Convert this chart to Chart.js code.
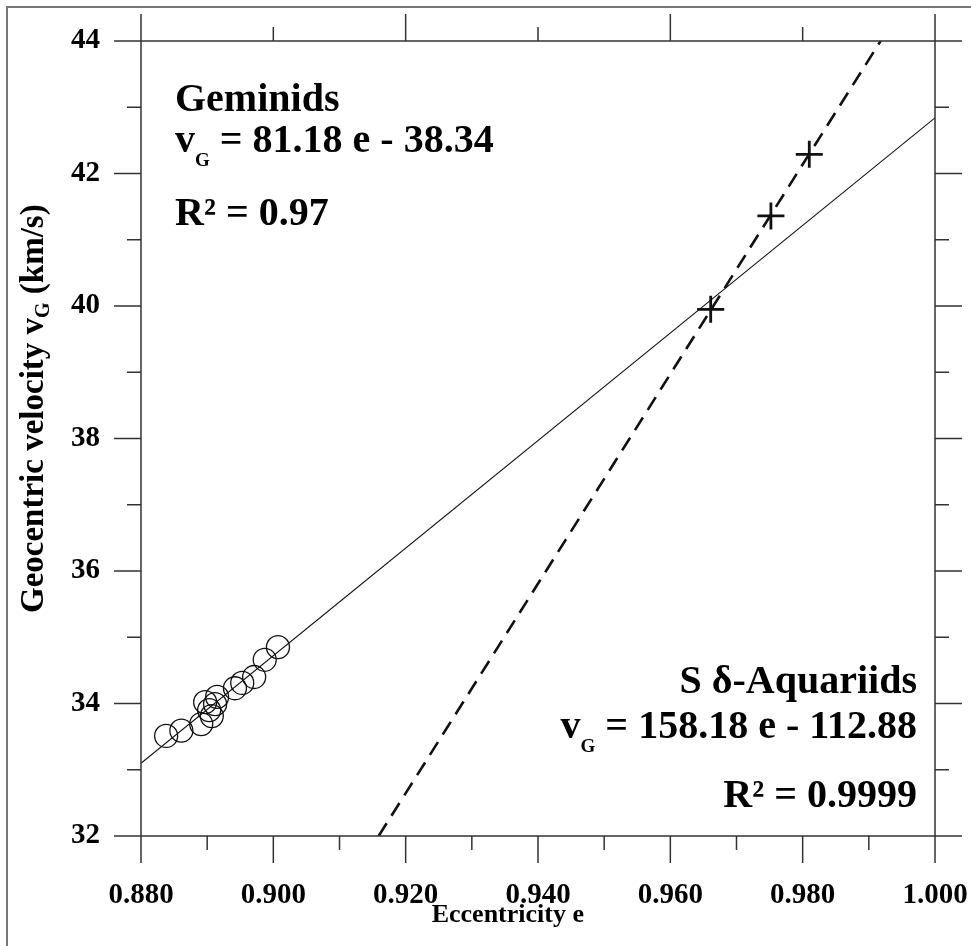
<!DOCTYPE html>
<html>
<head>
<meta charset="utf-8">
<script src="https://cdn.jsdelivr.net/npm/chart.js@4.4.1/dist/chart.umd.min.js"></script>
<style>
  html, body { margin: 0; padding: 0; background: #fff; }
  canvas { display: block; }
</style>
</head>
<body>
<canvas id="chart" width="971" height="946"></canvas>
<script>
// Geminids: eccentricity vs geocentric velocity
const gemEcc = [0.8838, 0.8861, 0.8891, 0.8897, 0.8903, 0.8907, 0.8912, 0.8915, 0.8942, 0.8953, 0.8971, 0.8987, 0.9007];
const gemVel = [33.51, 33.59, 33.69, 34.02, 33.90, 33.81, 33.99, 34.10, 34.23, 34.31, 34.40, 34.66, 34.85];

// Southern delta-Aquariids
const sdaEcc = [0.9661, 0.9752, 0.9810];
const sdaVel = [39.95, 41.36, 42.29];

// linear fits vG = a e + b  (Geminids, S delta-Aquariids)
const fitSlope = [81.18, 158.18];
const fitIntercept = [-38.34, -112.88];

// axis ranges and tick labels
const xRange = [0.88, 1.0];
const yRange = [32, 44];
const xTickLabels = ['0.880', '0.900', '0.920', '0.940', '0.960', '0.980', '1.000'];
const yTickLabels = ['32', '34', '36', '38', '40', '42', '44'];

const SERIF = '"Liberation Serif", "Times New Roman", Times, serif';
const INK = '#111';

const toPoints = (xs, ys) => xs.map((x, i) => ({ x: x, y: ys[i] }));

// Geminids fit across the full x range
const gemLine = xRange.map(e => ({ x: e, y: fitSlope[0] * e + fitIntercept[0] }));
// SDA fit between the bottom and top of the y range
const sdaLine = yRange.map(v => ({ x: (v - fitIntercept[1]) / fitSlope[1], y: v }));

const MAJOR = 27, MINOR = 14;

// draw rich text runs: [{t, size, dy}] starting at x (or ending at x when align right)
function drawRuns(ctx, runs, x, y, align) {
    let total = 0;
    runs.forEach(r => {
        ctx.font = 'bold ' + r.size + 'px ' + SERIF;
        r.w = ctx.measureText(r.t).width;
        total += r.w;
    });
    let cx = align === 'right' ? x - total : x;
    ctx.textAlign = 'left';
    ctx.textBaseline = 'alphabetic';
    runs.forEach(r => {
        ctx.font = 'bold ' + r.size + 'px ' + SERIF;
        ctx.fillText(r.t, cx, y + (r.dy || 0));
        cx += r.w;
    });
    return total;
}

const framePlugin = {
    id: 'frame',
    afterDraw(chart) {
        const ctx = chart.ctx;
        const a = chart.chartArea;
        const xs = chart.scales.x, ys = chart.scales.y;
        ctx.save();

        // outer picture border
        ctx.strokeStyle = '#777';
        ctx.lineWidth = 2;
        ctx.beginPath();
        ctx.moveTo(7, chart.height);
        ctx.lineTo(7, 7);
        ctx.lineTo(chart.width, 7);
        ctx.stroke();

        // box axes, each running one major tick beyond the corners
        ctx.strokeStyle = '#333';
        ctx.lineWidth = 1.5;
        ctx.beginPath();
        ctx.moveTo(a.left, a.top - MAJOR); ctx.lineTo(a.left, a.bottom + MAJOR);
        ctx.moveTo(a.right, a.top - MAJOR); ctx.lineTo(a.right, a.bottom + MAJOR);
        ctx.moveTo(a.left - MAJOR, a.top); ctx.lineTo(a.right + MAJOR, a.top);
        ctx.moveTo(a.left - MAJOR, a.bottom); ctx.lineTo(a.right + MAJOR, a.bottom);

        // x ticks: bottom every 0.01, top every 0.02
        xs.ticks.forEach(t => {
            const n = Math.round((t.value - xRange[0]) * 100);
            const px = xs.getPixelForValue(t.value);
            const lb = n % 2 === 0 ? MAJOR : MINOR;
            ctx.moveTo(px, a.bottom); ctx.lineTo(px, a.bottom + lb);
            if (n % 2 === 0) {
                const lt = n % 4 === 0 ? MAJOR : MINOR;
                ctx.moveTo(px, a.top); ctx.lineTo(px, a.top - lt);
            }
        });
        // y ticks on both sides
        ys.ticks.forEach(t => {
            const n = Math.round(t.value);
            const py = ys.getPixelForValue(t.value);
            const l = n % 2 === 0 ? MAJOR : MINOR;
            ctx.moveTo(a.left, py); ctx.lineTo(a.left - l, py);
            ctx.moveTo(a.right, py); ctx.lineTo(a.right + l, py);
        });
        ctx.stroke();

        ctx.fillStyle = '#000';

        // x axis title
        ctx.font = 'bold 26px ' + SERIF;
        ctx.textAlign = 'center';
        ctx.textBaseline = 'alphabetic';
        ctx.fillText('Eccentricity e', a.left + (a.right - a.left) * 0.462, a.bottom + 86);

        // y axis title (rotated, with subscript)
        ctx.save();
        ctx.translate(43, a.bottom - 223);
        ctx.rotate(-Math.PI / 2);
        drawRuns(ctx, [
            { t: 'Geocentric velocity v', size: 33 },
            { t: 'G', size: 20, dy: 6 },
            { t: ' (km/s)', size: 33 }
        ], 0, 0, 'left');
        ctx.restore();

        // Geminids annotation
        const lx = a.left + 34;
        drawRuns(ctx, [{ t: 'Geminids', size: 40 }], lx, a.top + 70, 'left');
        drawRuns(ctx, [
            { t: 'v', size: 40 },
            { t: 'G', size: 19, dy: 14 },
            { t: ' = ' + fitSlope[0].toFixed(2) + ' e - ' + (-fitIntercept[0]).toFixed(2), size: 40 }
        ], lx, a.top + 111, 'left');
        drawRuns(ctx, [{ t: 'R\u00b2 = 0.97', size: 40 }], lx, a.top + 184, 'left');

        // S delta-Aquariids annotation
        const rx = a.right - 18;
        drawRuns(ctx, [{ t: 'S \u03b4-Aquariids', size: 40 }], rx, a.bottom - 143, 'right');
        drawRuns(ctx, [
            { t: 'v', size: 40 },
            { t: 'G', size: 19, dy: 14 },
            { t: ' = ' + fitSlope[1].toFixed(2) + ' e - ' + (-fitIntercept[1]).toFixed(2), size: 40 }
        ], rx, a.bottom - 98, 'right');
        drawRuns(ctx, [{ t: 'R\u00b2 = 0.9999', size: 40 }], rx, a.bottom - 29, 'right');

        ctx.restore();
    }
};

new Chart(document.getElementById('chart').getContext('2d'), {
    type: 'scatter',
    data: {
        datasets: [
            {
                label: 'Geminids fit',
                type: 'line',
                data: gemLine,
                borderColor: INK,
                borderWidth: 1.1,
                pointRadius: 0,
                fill: false
            },
            {
                label: 'S delta-Aquariids fit',
                type: 'line',
                data: sdaLine,
                borderColor: INK,
                borderWidth: 2.6,
                borderDash: [15, 9],
                pointRadius: 0,
                fill: false
            },
            {
                label: 'Geminids',
                data: toPoints(gemEcc, gemVel),
                pointStyle: 'circle',
                pointRadius: 11.5,
                backgroundColor: 'rgba(0,0,0,0)',
                borderColor: INK,
                borderWidth: 1.3
            },
            {
                label: 'S delta-Aquariids',
                data: toPoints(sdaEcc, sdaVel),
                pointStyle: 'cross',
                pointRadius: 13.5,
                borderColor: INK,
                borderWidth: 2.8
            }
        ]
    },
    options: {
        responsive: false,
        animation: false,
        layout: { padding: { left: 0, top: 41, right: 36, bottom: 0 } },
        plugins: {
            legend: { display: false },
            tooltip: { enabled: false }
        },
        scales: {
            x: {
                type: 'linear',
                min: xRange[0],
                max: xRange[1],
                grid: { display: false, drawTicks: false },
                border: { display: false },
                afterFit: scale => {
                    scale.height = 110;
                    scale.paddingLeft = 0;
                    scale.paddingRight = 0;
                },
                ticks: {
                    stepSize: 0.01,
                    autoSkip: false,
                    maxRotation: 0,
                    padding: 42,
                    color: '#000',
                    font: { family: SERIF, weight: 'bold', size: 29 },
                    callback: v => {
                        const s = Number(v).toFixed(3);
                        return xTickLabels.includes(s) ? s : '';
                    }
                }
            },
            y: {
                type: 'linear',
                min: yRange[0],
                max: yRange[1],
                grid: { display: false, drawTicks: false },
                border: { display: false },
                afterFit: scale => {
                    scale.width = 141;
                    scale.paddingTop = 0;
                    scale.paddingBottom = 0;
                },
                ticks: {
                    stepSize: 1,
                    autoSkip: false,
                    padding: 41,
                    color: '#000',
                    font: { family: SERIF, weight: 'bold', size: 29 },
                    callback: v => {
                        const s = String(Math.round(v));
                        return yTickLabels.includes(s) ? s : '';
                    }
                }
            }
        }
    },
    plugins: [framePlugin]
});
</script>
</body>
</html>
